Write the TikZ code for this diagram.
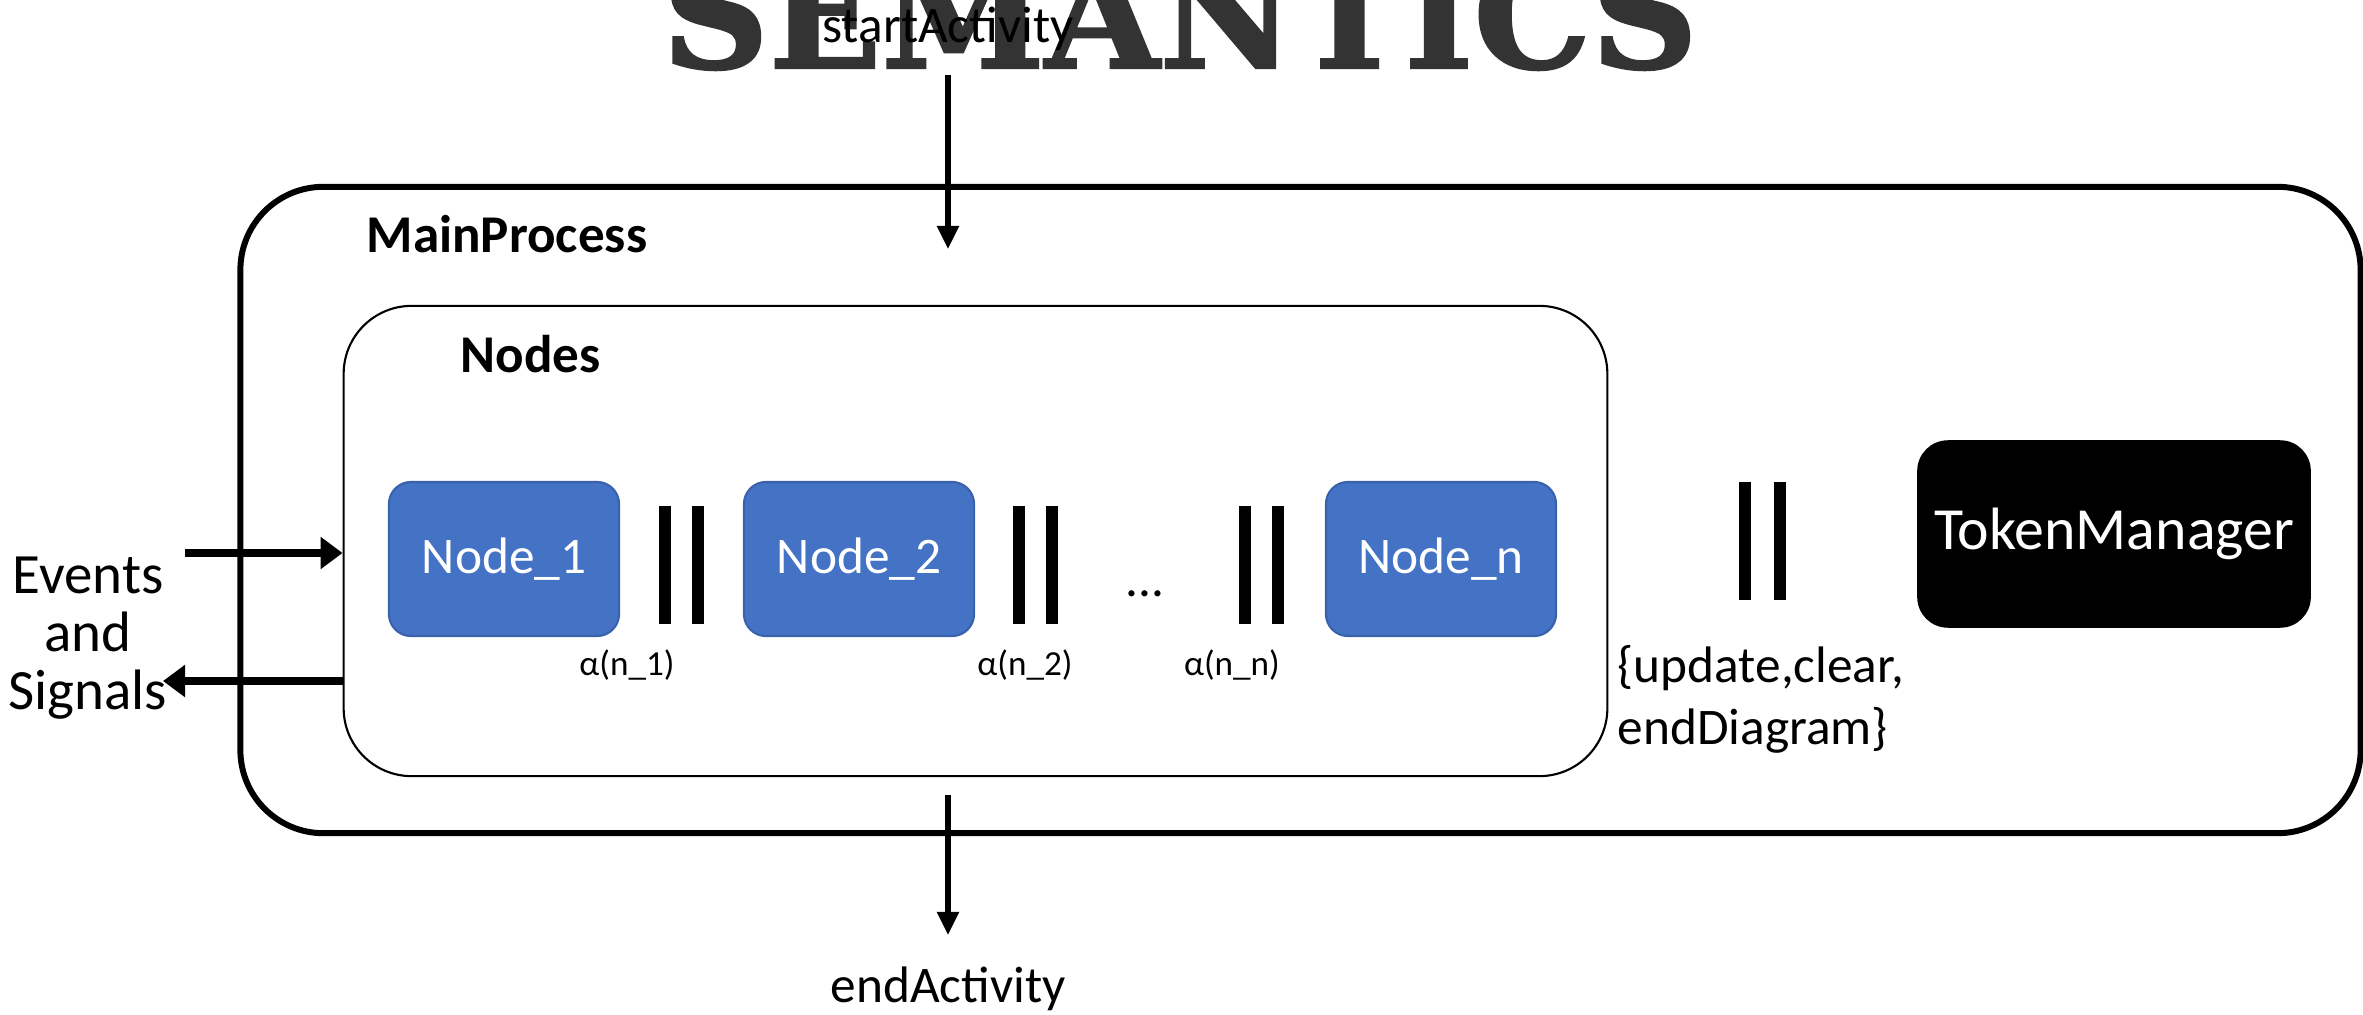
\documentclass[tikz,border=0pt]{standalone}
\usepackage{fontspec}
\setmainfont{Carlito}
\newfontfamily\titlefont[FakeBold=1.6]{DejaVu Serif Bold}
\usetikzlibrary{arrows.meta}

\definecolor{nodeblue}{HTML}{4472C4}
\definecolor{nodeedge}{HTML}{3A62AC}
\definecolor{titlegrey}{HTML}{333333}

\newcommand\txtsize{\fontsize{14.6}{16.5}\selectfont}

\tikzset{
  procbox/.style={draw, line width=1.7pt, rounded corners=0.83cm, inner sep=0pt},
  groupbox/.style={draw, line width=0.6pt, rounded corners=0.68cm, inner sep=0pt},
  bluenode/.style={fill=nodeblue, draw=nodeedge, line width=0.6pt, rounded corners=0.22cm,
    minimum width=2.3cm, minimum height=1.54cm, inner sep=0pt, text=white, font=\txtsize},
  managerbox/.style={fill=black, draw=black, rounded corners=0.3cm,
    minimum width=3.92cm, minimum height=1.86cm, inner sep=0pt, text=white,
    font=\fontsize{17}{19}\selectfont},
  parbar/.style={fill=black, minimum width=0.12cm, minimum height=1.18cm, inner sep=0pt},
  plain/.style={inner sep=0pt, font=\txtsize},
  heading/.style={inner sep=0pt, font=\fontsize{15.1}{17}\selectfont\bfseries},
  smalllabel/.style={inner sep=0pt, font=\fontsize{10}{12}\selectfont},
  flow/.style={line width=1.45pt, -{Triangle[length=0.23cm, width=0.21cm]}},
  ioflow/.style={line width=2.3pt, -{Triangle[length=0.22cm, width=0.31cm]}},
}

\begin{document}
\begin{tikzpicture}[x=0.01cm, y=-0.01cm]
  \useasboundingbox (0,0) rectangle (2363,1015);
  \clip (0,0) rectangle (2363,1015);

  % heading
  \node[anchor=base, inner sep=0pt, text=titlegrey,
        font=\titlefont\fontsize{42}{42}\selectfont] (title) at (1180,68) {SEMANTICS};

  % containers
  \node[procbox, minimum width=21.19cm, minimum height=6.46cm] (main) at (1300.5,510) {};
  \node[groupbox, minimum width=12.63cm, minimum height=4.70cm] (group) at (975.5,541) {};
  \node[heading, anchor=west] (mainlbl) at (366,234) {MainProcess};
  \node[heading, anchor=west] (grouplbl) at (460,354) {Nodes};

  % activity nodes
  \node[bluenode] (n1) at (504,559) {Node\_1};
  \node[bluenode] (n2) at (859,559) {Node\_2};
  \node[bluenode] (nn) at (1441,559) {Node\_n};
  \node[managerbox] (tm) at (2114,534) {TokenManager};

  % parallel composition bars
  \node[parbar] (b1a) at (665,565) {};
  \node[parbar] (b1b) at (698,565) {};
  \node[parbar] (b2a) at (1019,565) {};
  \node[parbar] (b2b) at (1052,565) {};
  \node[parbar] (b3a) at (1245,565) {};
  \node[parbar] (b3b) at (1278,565) {};
  \node[parbar] (b4a) at (1745,541) {};
  \node[parbar] (b4b) at (1780,541) {};
  \node[plain] (dots) at (1145,594) {...};

  % synchronisation sets
  \node[smalllabel] (a1) at (627,665) {α(n\_1)};
  \node[smalllabel] (a2) at (1025,665) {α(n\_2)};
  \node[smalllabel] (an) at (1232,665) {α(n\_n)};
  \node[plain, anchor=north west, align=left, font=\fontsize{14.6}{17.6}\selectfont]
       (sync) at (1617,645) {\{update,clear,\\endDiagram\}};

  % environment
  \node[plain, align=center, font=\fontsize{16.2}{16.5}\selectfont] (env) at (88,638) {Events\\and\\Signals};
  \coordinate (evStart) at (185,553);
  \coordinate (sigEnd) at (163,681);
  \draw[ioflow] (evStart) -- (evStart -| group.west);
  \draw[ioflow] (sigEnd -| group.west) -- (sigEnd);

  % start and end of the activity
  \node[plain, anchor=base] (start) at (948,42) {startActivity};
  \coordinate (startTop) at (948,75);
  \coordinate (startTip) at (948,249);
  \draw[flow] (startTop) -- (startTip);

  \coordinate (endTop) at (948,795);
  \coordinate (endTip) at (948,935);
  \draw[flow] (endTop) -- (endTip);
  \node[plain, anchor=base] (finish) at (948,1002) {endActivity};
\end{tikzpicture}
\end{document}
